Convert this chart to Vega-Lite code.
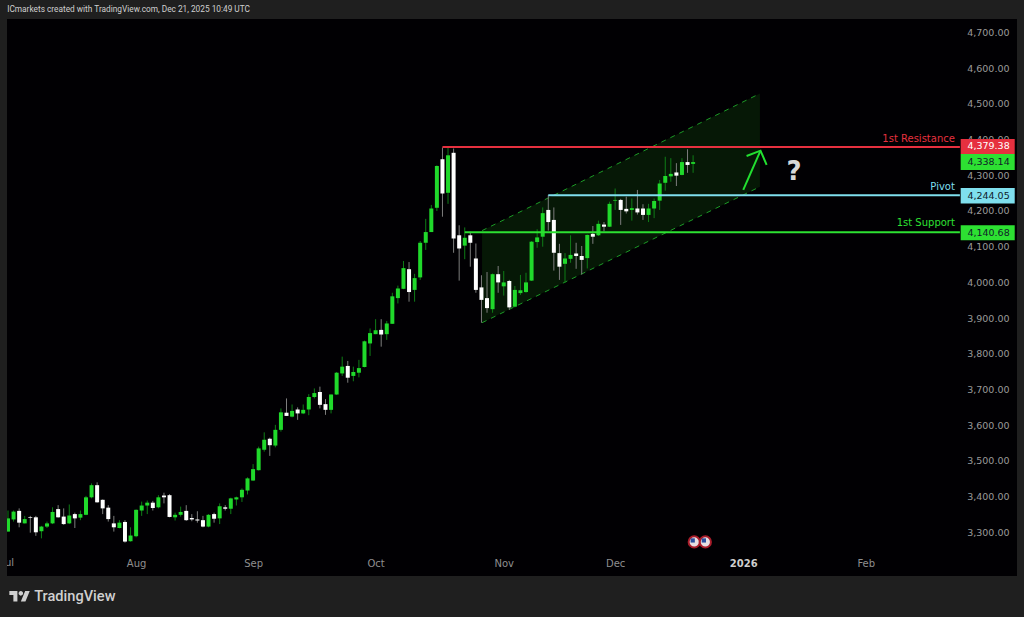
{"$schema":"https://vega.github.io/schema/vega-lite/v6.json","width":1010,"height":557,"autosize":"none","padding":{"left":7,"top":19,"right":7,"bottom":41},"background":"#1f1f1f","view":{"fill":"#010003","stroke":null},"config":{"font":"DejaVu Sans"},
"datasets":{"candles":[
{"n":0,"o":3302,"h":3361,"l":3302,"c":3339},{"n":1,"o":3336,"h":3361,"l":3330,"c":3358},{"n":2,"o":3360,"h":3367,"l":3314,"c":3327},{"n":3,"o":3325,"h":3346,"l":3325,"c":3337},{"n":4,"o":3342,"h":3346,"l":3299,"c":3340},{"n":5,"o":3342,"h":3346,"l":3290,"c":3300},{"n":6,"o":3303,"h":3318,"l":3283,"c":3316},{"n":7,"o":3316,"h":3330,"l":3312,"c":3325},{"n":8,"o":3325,"h":3370,"l":3323,"c":3357},{"n":9,"o":3365,"h":3376,"l":3341,"c":3342},
{"n":10,"o":3344,"h":3367,"l":3321,"c":3323},{"n":11,"o":3325,"h":3378,"l":3323,"c":3347},{"n":12,"o":3351,"h":3355,"l":3312,"c":3339},{"n":13,"o":3341,"h":3361,"l":3334,"c":3351},{"n":14,"o":3349,"h":3402,"l":3348,"c":3398},{"n":15,"o":3398,"h":3437,"l":3395,"c":3432},{"n":16,"o":3432,"h":3440,"l":3383,"c":3384},{"n":17,"o":3391,"h":3392,"l":3351,"c":3367},{"n":18,"o":3369,"h":3376,"l":3330,"c":3337},{"n":19,"o":3325,"h":3346,"l":3302,"c":3314},
{"n":20,"o":3312,"h":3334,"l":3311,"c":3327},{"n":21,"o":3329,"h":3334,"l":3271,"c":3274},{"n":22,"o":3275,"h":3314,"l":3274,"c":3291},{"n":23,"o":3289,"h":3364,"l":3286,"c":3363},{"n":24,"o":3361,"h":3386,"l":3346,"c":3375},{"n":25,"o":3375,"h":3389,"l":3351,"c":3383},{"n":26,"o":3383,"h":3388,"l":3361,"c":3368},{"n":27,"o":3370,"h":3404,"l":3367,"c":3398},{"n":28,"o":3403,"h":3411,"l":3381,"c":3398},{"n":29,"o":3404,"h":3407,"l":3342,"c":3343},
{"n":30,"o":3342,"h":3355,"l":3333,"c":3349},{"n":31,"o":3349,"h":3372,"l":3344,"c":3357},{"n":32,"o":3360,"h":3376,"l":3332,"c":3334},{"n":33,"o":3340,"h":3351,"l":3331,"c":3336},{"n":34,"o":3336,"h":3359,"l":3327,"c":3333},{"n":35,"o":3334,"h":3346,"l":3314,"c":3316},{"n":36,"o":3316,"h":3351,"l":3314,"c":3349},{"n":37,"o":3351,"h":3355,"l":3327,"c":3338},{"n":38,"o":3339,"h":3381,"l":3323,"c":3373},{"n":39,"o":3370,"h":3376,"l":3361,"c":3366},
{"n":40,"o":3366,"h":3397,"l":3351,"c":3395},{"n":41,"o":3392,"h":3400,"l":3375,"c":3398},{"n":42,"o":3398,"h":3423,"l":3385,"c":3419},{"n":43,"o":3417,"h":3454,"l":3406,"c":3451},{"n":44,"o":3445,"h":3491,"l":3444,"c":3477},{"n":45,"o":3474,"h":3540,"l":3473,"c":3535},{"n":46,"o":3531,"h":3580,"l":3526,"c":3559},{"n":47,"o":3562,"h":3565,"l":3514,"c":3544},{"n":48,"o":3543,"h":3601,"l":3538,"c":3587},{"n":49,"o":3587,"h":3647,"l":3582,"c":3636},
{"n":50,"o":3635,"h":3675,"l":3626,"c":3626},{"n":51,"o":3624,"h":3658,"l":3622,"c":3640},{"n":52,"o":3644,"h":3650,"l":3615,"c":3633},{"n":53,"o":3633,"h":3658,"l":3631,"c":3643},{"n":54,"o":3644,"h":3687,"l":3628,"c":3679},{"n":55,"o":3679,"h":3703,"l":3675,"c":3690},{"n":56,"o":3693,"h":3708,"l":3647,"c":3657},{"n":57,"o":3659,"h":3673,"l":3629,"c":3643},{"n":58,"o":3643,"h":3686,"l":3633,"c":3686},{"n":59,"o":3686,"h":3749,"l":3685,"c":3747},
{"n":60,"o":3745,"h":3792,"l":3738,"c":3764},{"n":61,"o":3766,"h":3780,"l":3719,"c":3733},{"n":62,"o":3738,"h":3764,"l":3723,"c":3749},{"n":63,"o":3747,"h":3783,"l":3734,"c":3760},{"n":64,"o":3763,"h":3837,"l":3762,"c":3835},{"n":65,"o":3829,"h":3871,"l":3794,"c":3858},{"n":66,"o":3855,"h":3897,"l":3855,"c":3866},{"n":67,"o":3867,"h":3897,"l":3820,"c":3854},{"n":68,"o":3855,"h":3892,"l":3839,"c":3885},{"n":69,"o":3884,"h":3971,"l":3884,"c":3961},
{"n":70,"o":3956,"h":3991,"l":3941,"c":3983},{"n":71,"o":3982,"h":4060,"l":3981,"c":4040},{"n":72,"o":4037,"h":4057,"l":3946,"c":3973},{"n":73,"o":3979,"h":4024,"l":3946,"c":4012},{"n":74,"o":4014,"h":4116,"l":4007,"c":4111},{"n":75,"o":4111,"h":4178,"l":4091,"c":4141},{"n":76,"o":4141,"h":4217,"l":4141,"c":4207},{"n":77,"o":4209,"h":4328,"l":4200,"c":4326},{"n":78,"o":4345,"h":4378,"l":4184,"c":4249},{"n":79,"o":4251,"h":4380,"l":4220,"c":4356},
{"n":80,"o":4363,"h":4375,"l":4083,"c":4123},{"n":81,"o":4132,"h":4160,"l":4005,"c":4095},{"n":82,"o":4103,"h":4154,"l":4065,"c":4125},{"n":83,"o":4132,"h":4142,"l":4044,"c":4111},{"n":84,"o":4067,"h":4109,"l":3971,"c":3979},{"n":85,"o":3986,"h":4020,"l":3887,"c":3951},{"n":86,"o":3956,"h":4029,"l":3915,"c":3928},{"n":87,"o":3925,"h":4025,"l":3915,"c":4023},{"n":88,"o":4023,"h":4046,"l":3971,"c":4000},{"n":89,"o":3989,"h":4032,"l":3963,"c":4000},
{"n":90,"o":4004,"h":4007,"l":3923,"c":3930},{"n":91,"o":3932,"h":3990,"l":3930,"c":3979},{"n":92,"o":3970,"h":4021,"l":3965,"c":3978},{"n":93,"o":3973,"h":4027,"l":3971,"c":4000},{"n":94,"o":4005,"h":4116,"l":4004,"c":4114},{"n":95,"o":4113,"h":4149,"l":4097,"c":4126},{"n":96,"o":4128,"h":4210,"l":4100,"c":4194},{"n":97,"o":4203,"h":4245,"l":4145,"c":4169},{"n":98,"o":4175,"h":4210,"l":4033,"c":4083},{"n":99,"o":4082,"h":4108,"l":4007,"c":4044},
{"n":100,"o":4052,"h":4082,"l":3999,"c":4067},{"n":101,"o":4066,"h":4132,"l":4055,"c":4077},{"n":102,"o":4081,"h":4111,"l":4038,"c":4074},{"n":103,"o":4074,"h":4102,"l":4022,"c":4063},{"n":104,"o":4068,"h":4134,"l":4039,"c":4133},{"n":105,"o":4136,"h":4158,"l":4108,"c":4128},{"n":106,"o":4132,"h":4173,"l":4130,"c":4164},{"n":107,"o":4162,"h":4169,"l":4143,"c":4156},{"n":108,"o":4156,"h":4226,"l":4155,"c":4220},{"n":109,"o":4229,"h":4263,"l":4203,"c":4231},
{"n":110,"o":4231,"h":4234,"l":4161,"c":4203},{"n":111,"o":4206,"h":4240,"l":4193,"c":4199},{"n":112,"o":4203,"h":4235,"l":4173,"c":4208},{"n":113,"o":4207,"h":4259,"l":4190,"c":4196},{"n":114,"o":4207,"h":4219,"l":4175,"c":4189},{"n":115,"o":4189,"h":4220,"l":4169,"c":4207},{"n":116,"o":4207,"h":4235,"l":4180,"c":4228},{"n":117,"o":4229,"h":4287,"l":4203,"c":4277},{"n":118,"o":4279,"h":4352,"l":4257,"c":4298},{"n":119,"o":4297,"h":4348,"l":4282,"c":4304},
{"n":120,"o":4308,"h":4334,"l":4270,"c":4299},{"n":121,"o":4301,"h":4348,"l":4300,"c":4337},{"n":122,"o":4337,"h":4373,"l":4307,"c":4329},{"n":123,"o":4332,"h":4356,"l":4307,"c":4337}],
"channel":[{"n":85.1,"lo":3887,"hi":4145},{"n":135,"lo":4268,"hi":4529}],
"edges":[{"n":85.1,"n2":135,"p":3887,"p2":4268},{"n":85.1,"n2":135,"p":4145,"p2":4529}],
"levels":[{"level":"resistance","n":78,"n2":170.9,"p":4379.38},{"level":"pivot","n":97,"n2":170.9,"p":4244.05},{"level":"support","n":82,"n2":170.9,"p":4140.68}],
"tags":[{"level":"resistance","n":171.04,"n2":180.74,"p":4401.7,"p2":4359.7,"mid":4380.7,"text":"4,379.38"},{"level":"support","n":171.04,"n2":180.74,"p":4359.7,"p2":4314.8,"mid":4337.2,"text":"4,338.14"},{"level":"pivot","n":171.04,"n2":180.74,"p":4264.4,"p2":4221,"mid":4242.7,"text":"4,244.05"},{"level":"support","n":171.04,"n2":180.74,"p":4160,"p2":4118,"mid":4139,"text":"4,140.68"}],
"names":[{"level":"resistance","n":170,"p":4401,"text":"1st Resistance"},{"level":"pivot","n":170,"p":4267,"text":"Pivot"},{"level":"support","n":170,"p":4165,"text":"1st Support"}],
"arrow":[{"part":"shaft","k":0,"n":132,"p":4259},{"part":"shaft","k":1,"n":135.1,"p":4369},{"part":"head","k":0,"n":132.6,"p":4354},{"part":"head","k":1,"n":135.1,"p":4369},{"part":"head","k":2,"n":136.2,"p":4329}],
"q":[{"n":141.1,"p":4309,"text":"?"}],
"jul":[{"n":0,"p":3214,"text":"Jul"}],
"header":[{"n":-0.15,"p":4763,"text":"ICmarkets created with TradingView.com, Dec 21, 2025 10:49 UTC"}],
"brand":[{"n":4.7,"p":3119,"text":"TradingView"}],
"logo":[{"n":2.1,"p":3121}],
"flags":[{"n":123.2,"p":3273},{"n":125.2,"p":3273}]},
"layer":[
{"data":{"name":"channel"},"mark":{"type":"area","color":"#061806","clip":true},"encoding":{
"x":{"field":"n","type":"quantitative","title":null,"scale":{"domain":[-0.18,181.15],"nice":false,"zero":false,"padding":0},"axis":{"title":null,"grid":false,"domain":false,"ticks":false,"tickSize":0,"orient":"bottom","values":[23,44,66,89,109,132,154],"tickCount":20,"labelExpr":"{'23':'Aug','44':'Sep','66':'Oct','89':'Nov','109':'Dec','132':'2026','154':'Feb'}[datum.value]","labelPadding":-13,"labelBaseline":"middle","labelFont":"DejaVu Sans","labelFontSize":10,"labelColor":{"condition":{"test":"datum.value==132","value":"#cfcfcf"},"value":"#8f8f8f"},"labelFontWeight":{"condition":{"test":"datum.value==132","value":"bold"},"value":"normal"},"labelFlush":false,"labelOverlap":false}},
"y":{"field":"lo","type":"quantitative","title":null,"scale":{"domain":[3177.6,4737.8],"nice":false,"zero":false,"padding":0},"axis":{"title":null,"grid":false,"domain":false,"ticks":false,"tickSize":0,"orient":"right","values":[3300,3400,3500,3600,3700,3800,3900,4000,4100,4200,4300,4400,4500,4600,4700],"tickCount":30,"format":",.2f","labelPadding":-8,"labelAlign":"right","labelFont":"DejaVu Sans","labelFontSize":9.5,"labelColor":"#9a9a9a","labelFlush":false,"labelOverlap":false,"labelBound":false}},
"y2":{"field":"hi"}}},
{"data":{"name":"edges"},"mark":{"type":"rule","color":"#1c9a26","strokeWidth":1,"strokeDash":[5,5],"clip":true},"encoding":{"x":{"field":"n","type":"quantitative"},"x2":{"field":"n2"},"y":{"field":"p","type":"quantitative"},"y2":{"field":"p2"}}},
{"data":{"name":"candles"},"mark":{"type":"rule","strokeWidth":1,"clip":true},"encoding":{"x":{"field":"n","type":"quantitative"},"y":{"field":"l","type":"quantitative"},"y2":{"field":"h"},"color":{"condition":{"test":"datum.c>=datum.o","value":"#0f7d17"},"value":"#7d7d7d"}}},
{"data":{"name":"candles"},"mark":{"type":"bar","size":4,"clip":true},"encoding":{"x":{"field":"n","type":"quantitative"},"y":{"field":"o","type":"quantitative"},"y2":{"field":"c"},"color":{"condition":{"test":"datum.c>=datum.o","value":"#20d92b"},"value":"#ffffff"}}},
{"data":{"name":"levels"},"mark":{"type":"rule","strokeWidth":2,"clip":true},"encoding":{"x":{"field":"n","type":"quantitative"},"x2":{"field":"n2"},"y":{"field":"p","type":"quantitative"},"color":{"field":"level","type":"nominal","legend":null,"scale":{"domain":["resistance","pivot","support"],"range":["#e6303f","#7fdfee","#2de032"]}}}},
{"data":{"name":"tags"},"mark":{"type":"rect"},"encoding":{"x":{"field":"n","type":"quantitative"},"x2":{"field":"n2"},"y":{"field":"p","type":"quantitative"},"y2":{"field":"p2"},"color":{"field":"level","type":"nominal","legend":null}}},
{"data":{"name":"tags"},"mark":{"type":"text","align":"right","baseline":"middle","font":"DejaVu Sans","fontSize":9.5,"dx":-5},"encoding":{"x":{"field":"n2","type":"quantitative"},"y":{"field":"mid","type":"quantitative"},"text":{"field":"text"},"color":{"condition":{"test":"datum.level=='resistance'","value":"#ffffff"},"value":"#10202a"}}},
{"data":{"name":"names"},"mark":{"type":"text","align":"right","baseline":"middle","font":"DejaVu Sans","fontSize":10},"encoding":{"x":{"field":"n","type":"quantitative"},"y":{"field":"p","type":"quantitative"},"text":{"field":"text"},"color":{"field":"level","type":"nominal","legend":null}}},
{"data":{"name":"arrow"},"mark":{"type":"line","color":"#22e030","strokeWidth":2,"clip":true},"encoding":{"x":{"field":"n","type":"quantitative"},"y":{"field":"p","type":"quantitative"},"detail":{"field":"part"},"order":{"field":"k"}}},
{"data":{"name":"q"},"mark":{"type":"text","font":"DejaVu Sans","fontWeight":"bold","fontSize":26,"color":"#d8d8d8","baseline":"middle"},"encoding":{"x":{"field":"n","type":"quantitative"},"y":{"field":"p","type":"quantitative"},"text":{"field":"text"}}},
{"data":{"name":"jul"},"mark":{"type":"text","font":"DejaVu Sans","fontSize":10,"color":"#8f8f8f","baseline":"middle","clip":true},"encoding":{"x":{"field":"n","type":"quantitative"},"y":{"field":"p","type":"quantitative"},"text":{"field":"text"}}},
{"data":{"name":"header"},"mark":{"type":"text","font":"Roboto","fontSize":8.3,"color":"#cfcfcf","align":"left","baseline":"middle"},"encoding":{"x":{"field":"n","type":"quantitative"},"y":{"field":"p","type":"quantitative"},"text":{"field":"text"}}},
{"data":{"name":"brand"},"mark":{"type":"text","font":"Roboto","fontWeight":500,"fontSize":14.6,"color":"#d0d0d0","align":"left","baseline":"middle"},"encoding":{"x":{"field":"n","type":"quantitative"},"y":{"field":"p","type":"quantitative"},"text":{"field":"text"}}},
{"data":{"name":"logo"},"mark":{"type":"point","filled":true,"opacity":1,"color":"#d0d0d0","size":428,"shape":"M-0.222 0.5H-0.611V-0.111H-1V-0.5H-0.222ZM0.556 0.5H0.111L0.528-0.5H0.972ZM-0.111 -0.278a0.222 0.222 0 1 0 0.444 0a0.222 0.222 0 1 0 -0.444 0Z"},"encoding":{"x":{"field":"n","type":"quantitative"},"y":{"field":"p","type":"quantitative"}}},
{"data":{"name":"flags"},"mark":{"type":"point","filled":false,"size":125,"strokeWidth":2,"opacity":1,"color":"#a81c2a","fill":"#e6dfe2","fillOpacity":1},"encoding":{"x":{"field":"n","type":"quantitative"},"y":{"field":"p","type":"quantitative"}}},
{"data":{"name":"flags"},"mark":{"type":"point","filled":true,"shape":"square","size":18,"opacity":1,"color":"#2a4f9e","xOffset":-1.5,"yOffset":-1.5},"encoding":{"x":{"field":"n","type":"quantitative"},"y":{"field":"p","type":"quantitative"}}}
]}
